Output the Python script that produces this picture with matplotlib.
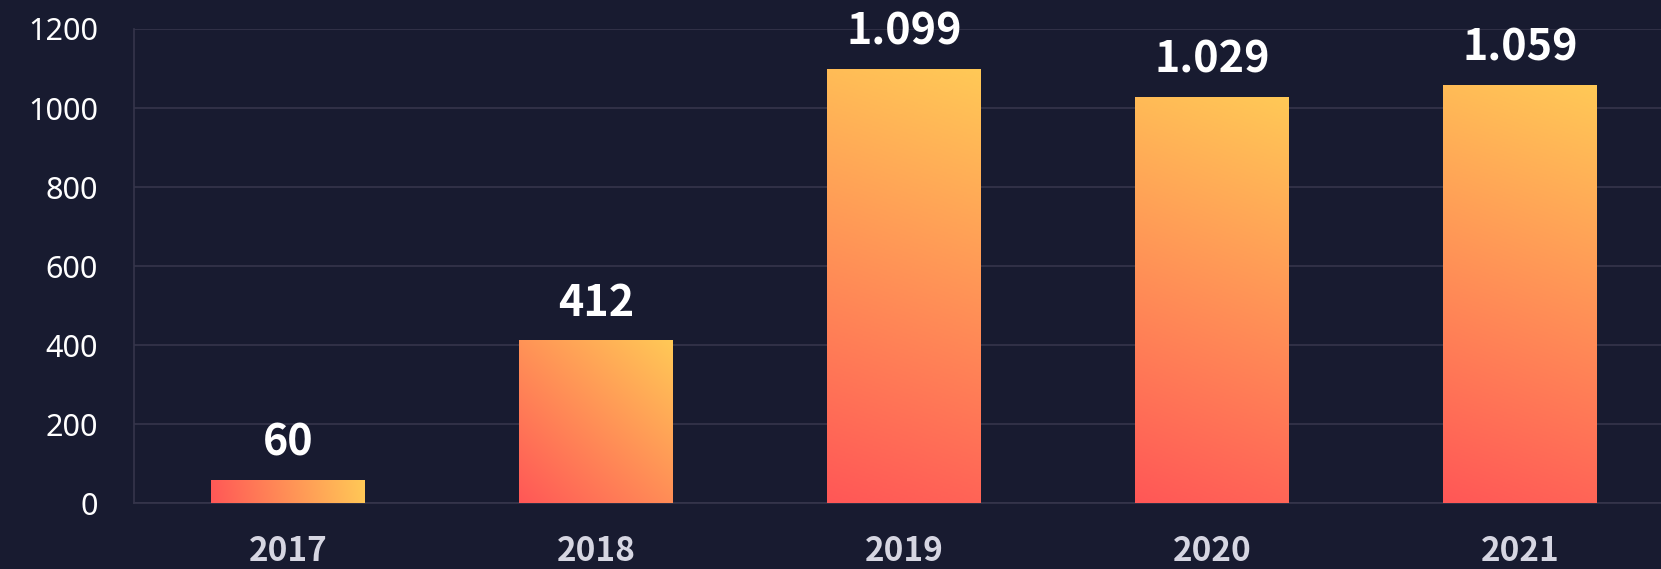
import matplotlib
matplotlib.use("Agg")
import matplotlib.pyplot as plt
import numpy as np
from matplotlib.colors import LinearSegmentedColormap

years = ["2017", "2018", "2019", "2020", "2021"]
values = [60, 412, 1099, 1029, 1059]
y_ticks = [0, 200, 400, 600, 800, 1000, 1200]

BG = "#181b30"
GRID = "#35354b"
RED = "#ff5757"
YELLOW = "#ffc956"
BOLD_FONT = ['Noto Sans CJK JP', 'Noto Sans', 'DejaVu Sans']

plt.rcParams['font.family'] = ['Noto Sans', 'DejaVu Sans']

W, H = 1661, 569
fig = plt.figure(figsize=(W / 100, H / 100), dpi=100)
fig.patch.set_facecolor(BG)

left_px, right_px = 134, 1674
top_px, bottom_px = 29, 503.3
ax = fig.add_axes([left_px / W, (H - bottom_px) / H,
                   (right_px - left_px) / W, (bottom_px - top_px) / H])
ax.set_facecolor(BG)

x = np.arange(len(years))
ax.set_xlim(-0.5, len(years) - 0.5)
ax.set_ylim(0, 1200)
bars = ax.bar(x, values, width=0.5, color="none", zorder=3)

cmap = LinearSegmentedColormap.from_list("grad", [RED, YELLOW])
n = 300
u = np.linspace(0, 1, n)
U, V = np.meshgrid(u, u)
for b in bars:
    x0, y0 = b.get_x(), b.get_y()
    w, h = b.get_width(), b.get_height()
    p0 = ax.transData.transform((x0, y0))
    p1 = ax.transData.transform((x0 + w, y0 + h))
    wp, hp = p1[0] - p0[0], p1[1] - p0[1]
    T = (U * wp ** 2 + V * hp ** 2) / (wp ** 2 + hp ** 2)
    im = ax.imshow(T, cmap=cmap, vmin=0, vmax=1, origin="lower",
                   extent=[x0, x0 + w, y0, y0 + h], aspect="auto",
                   interpolation="bilinear", zorder=3)
    im.set_clip_path(b)

for xi, val in zip(x, values):
    label = f"{val:,}".replace(",", ".")
    ax.annotate(label, (xi, val), xytext=(0, 11), textcoords="offset points",
                ha="center", va="bottom", color="white", fontsize=31,
                fontweight="bold", family=BOLD_FONT, zorder=4)

ax.set_yticks(y_ticks)
ax.set_yticklabels([str(t) for t in y_ticks])
ax.set_xticks(x)
ax.set_xticklabels(years)
ax.grid(axis="y", color=GRID, linewidth=1.2, zorder=0)
ax.set_axisbelow(True)

for s in ["top", "right"]:
    ax.spines[s].set_visible(False)
for s in ["left", "bottom"]:
    ax.spines[s].set_color(GRID)
    ax.spines[s].set_linewidth(1.2)

ax.tick_params(axis="y", length=0, pad=26, labelsize=22, labelcolor="white")
ax.tick_params(axis="x", length=0, pad=23, labelsize=24, labelcolor="#d6d6e2")
for lbl in ax.get_xticklabels():
    lbl.set_fontweight("bold")
    lbl.set_family(BOLD_FONT)

fig.savefig("out.png", dpi=100, facecolor=BG)
